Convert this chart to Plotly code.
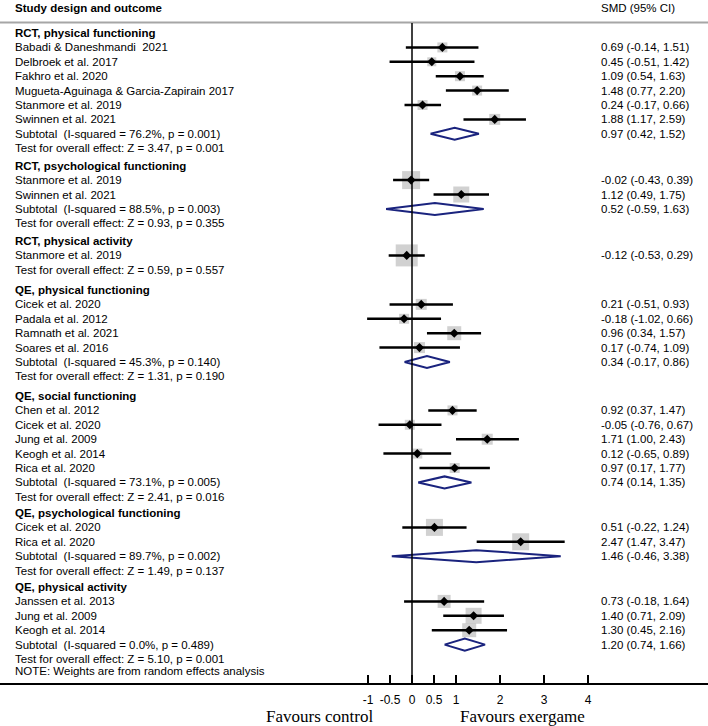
import plotly.graph_objects as go

# ---------------- data ----------------
group_names = [
    "RCT, physical functioning",
    "RCT, psychological functioning",
    "RCT, physical activity",
    "QE, physical functioning",
    "QE, social functioning",
    "QE, psychological functioning",
    "QE, physical activity",
]
group_subtotal = [
    "Subtotal\u00a0 (I-squared = 76.2%, p = 0.001)",
    "Subtotal\u00a0 (I-squared = 88.5%, p = 0.003)",
    None,
    "Subtotal\u00a0 (I-squared = 45.3%, p = 0.140)",
    "Subtotal\u00a0 (I-squared = 73.1%, p = 0.005)",
    "Subtotal\u00a0 (I-squared = 89.7%, p = 0.002)",
    "Subtotal\u00a0 (I-squared = 0.0%, p = 0.489)",
]
sub_smd = [0.97, 0.52, None, 0.34, 0.74, 1.46, 1.20]
sub_lo = [0.42, -0.59, None, -0.17, 0.14, -0.46, 0.74]
sub_hi = [1.52, 1.63, None, 0.86, 1.35, 3.38, 1.66]
group_tests = [
    "Test for overall effect: Z = 3.47, p = 0.001",
    "Test for overall effect: Z = 0.93, p = 0.355",
    "Test for overall effect: Z = 0.59, p = 0.557",
    "Test for overall effect: Z = 1.31, p = 0.190",
    "Test for overall effect: Z = 2.41, p = 0.016",
    "Test for overall effect: Z = 1.49, p = 0.137",
    "Test for overall effect: Z = 5.10, p = 0.001",
]

study_group = [0] * 6 + [1] * 2 + [2] + [3] * 4 + [4] * 5 + [5] * 2 + [6] * 3
study_labels = [
    "Babadi & Daneshmandi\u00a0 2021",
    "Delbroek et al. 2017",
    "Fakhro et al. 2020",
    "Mugueta-Aguinaga & Garcia-Zapirain 2017",
    "Stanmore et al. 2019",
    "Swinnen et al. 2021",
    "Stanmore et al. 2019",
    "Swinnen et al. 2021",
    "Stanmore et al. 2019",
    "Cicek et al. 2020",
    "Padala et al. 2012",
    "Ramnath et al. 2021",
    "Soares et al. 2016",
    "Chen et al. 2012",
    "Cicek et al. 2020",
    "Jung et al. 2009",
    "Keogh et al. 2014",
    "Rica et al. 2020",
    "Cicek et al. 2020",
    "Rica et al. 2020",
    "Janssen et al. 2013",
    "Jung et al. 2009",
    "Keogh et al. 2014",
]
smd = [0.69, 0.45, 1.09, 1.48, 0.24, 1.88,
       -0.02, 1.12,
       -0.12,
       0.21, -0.18, 0.96, 0.17,
       0.92, -0.05, 1.71, 0.12, 0.97,
       0.51, 2.47,
       0.73, 1.40, 1.30]
ci_lo = [-0.14, -0.51, 0.54, 0.77, -0.17, 1.17,
         -0.43, 0.49,
         -0.53,
         -0.51, -1.02, 0.34, -0.74,
         0.37, -0.76, 1.00, -0.65, 0.17,
         -0.22, 1.47,
         -0.18, 0.71, 0.45]
ci_hi = [1.51, 1.42, 1.63, 2.20, 0.66, 2.59,
         0.39, 1.75,
         0.29,
         0.93, 0.66, 1.57, 1.09,
         1.47, 0.67, 2.43, 0.89, 1.77,
         1.24, 3.47,
         1.64, 2.09, 2.16]

x_tickvals = [-1, -0.5, 0, 0.5, 1, 2, 3, 4]
x_ticktext = ["-1", "-0.5", "0", "0.5", "1", "2", "3", "4"]

# ---------------- styles / layout ----------------
box_size = [10, 9, 10, 10, 10, 11,
            18, 16,
            22,
            11, 10, 14, 11,
            10, 10, 11, 10, 10,
            17, 17,
            13, 16, 14]

W, H = 708, 726
PLOT_BOTTOM = 683          # pixel row of axis line
ZERO_PX = 412              # pixel column of x = 0
PX_PER_UNIT = 44
LEFT_TXT = 13
RIGHT_TXT = 599
group_top = [33, 165.7, 241, 290, 396, 513, 587]
ROW = 14.4
NOTE_Y = 671
SANS = "Arial, Liberation Sans, Helvetica, sans-serif"
SERIF = "Times New Roman, Liberation Serif, serif"
TXT_SIZE = 11.5
GRAY_BOX = "#BDBDBD"
NAVY = "#1A237E"

x_min = -ZERO_PX / PX_PER_UNIT
x_max = (W - ZERO_PX) / PX_PER_UNIT


def py(ypx):
    return (PLOT_BOTTOM - ypx) / PLOT_BOTTOM


annotations = []


def add_text(xpx, ypx, text, bold=False, size=TXT_SIZE):
    annotations.append(dict(
        x=xpx / W, y=py(ypx), xref="paper", yref="paper",
        text=("<b>%s</b>" % text) if bold else text,
        showarrow=False, xanchor="left", yanchor="middle",
        font=dict(family=SANS, size=size, color="black"),
    ))


def fmt(e, lo, hi):
    return "%.2f (%.2f, %.2f)" % (e, lo, hi)


# row positions
study_y = []
sub_y = []
test_y = []
for g, name in enumerate(group_names):
    top = group_top[g]
    k = 1
    for j in range(study_group.count(g)):
        study_y.append(top + k * ROW)
        k += 1
    if group_subtotal[g] is not None:
        sub_y.append(top + k * ROW)
        k += 1
    else:
        sub_y.append(None)
    test_y.append(top + k * ROW)

fig = go.Figure()

# boxes (weights)
fig.add_trace(go.Scatter(
    x=smd, y=study_y, mode="markers",
    marker=dict(symbol="square", size=box_size, color=GRAY_BOX, line=dict(width=0)),
    hoverinfo="skip", showlegend=False,
))
# CI lines
cx, cy = [], []
for lo, hi, y in zip(ci_lo, ci_hi, study_y):
    cx += [lo, hi, None]
    cy += [y, y, None]
fig.add_trace(go.Scatter(
    x=cx, y=cy, mode="lines", line=dict(color="black", width=2.5),
    hoverinfo="skip", showlegend=False,
))
# point estimates
fig.add_trace(go.Scatter(
    x=smd, y=study_y, mode="markers",
    marker=dict(symbol="diamond", size=7, color="black"),
    hoverinfo="skip", showlegend=False,
))
# subtotal diamonds
DH = 6
for g in range(len(group_names)):
    if sub_smd[g] is None:
        continue
    y = sub_y[g]
    fig.add_trace(go.Scatter(
        x=[sub_lo[g], sub_smd[g], sub_hi[g], sub_smd[g], sub_lo[g]],
        y=[y, y - DH, y, y + DH, y],
        mode="lines", fill="toself", fillcolor="white",
        line=dict(color=NAVY, width=2),
        hoverinfo="skip", showlegend=False,
    ))

# texts
add_text(LEFT_TXT, 8, "Study design and outcome", bold=True)
add_text(RIGHT_TXT, 8, "SMD (95% CI)")
si = 0
for g, name in enumerate(group_names):
    add_text(LEFT_TXT, group_top[g], name, bold=True)
    for j in range(study_group.count(g)):
        add_text(LEFT_TXT, study_y[si], study_labels[si])
        add_text(RIGHT_TXT, study_y[si], fmt(smd[si], ci_lo[si], ci_hi[si]))
        si += 1
    if group_subtotal[g] is not None:
        add_text(LEFT_TXT, sub_y[g], group_subtotal[g])
        add_text(RIGHT_TXT, sub_y[g], fmt(sub_smd[g], sub_lo[g], sub_hi[g]))
    add_text(LEFT_TXT, test_y[g], group_tests[g])
add_text(LEFT_TXT, NOTE_Y, "NOTE: Weights are from random effects analysis")

annotations.append(dict(
    x=(ZERO_PX - 93) / W, y=py(716), xref="paper", yref="paper",
    text="Favours control", showarrow=False, xanchor="center", yanchor="middle",
    font=dict(family=SERIF, size=17, color="black"),
))
annotations.append(dict(
    x=(ZERO_PX + 110) / W, y=py(716), xref="paper", yref="paper",
    text="Favours exergame", showarrow=False, xanchor="center", yanchor="middle",
    font=dict(family=SERIF, size=17, color="black"),
))

shapes = [
    dict(type="line", xref="paper", yref="paper", x0=0, x1=1, y0=py(22.5), y1=py(22.5),
         line=dict(color="#A6A6A6", width=2)),
    dict(type="line", xref="x", yref="paper", x0=0, x1=0, y0=py(23), y1=0,
         line=dict(color="black", width=1.5)),
]

fig.update_layout(
    width=W, height=H,
    margin=dict(l=0, r=0, t=0, b=H - PLOT_BOTTOM, pad=0),
    paper_bgcolor="white", plot_bgcolor="white",
    showlegend=False,
    annotations=annotations,
    shapes=shapes,
    xaxis=dict(
        range=[x_min, x_max], showgrid=False, zeroline=False,
        showline=True, linecolor="black", linewidth=2,
        ticks="inside", ticklen=8, tickwidth=2, tickcolor="black",
        tickvals=x_tickvals, ticktext=x_ticktext,
        tickfont=dict(family=SANS, size=12, color="black"),
        ticklabelstandoff=5,
        fixedrange=True,
    ),
    yaxis=dict(range=[PLOT_BOTTOM, 0], visible=False, fixedrange=True),
)

fig.write_html(
    "out.html",
    config={"displayModeBar": False},
    post_script="document.body.style.margin='0';document.body.style.overflow='hidden';",
)
